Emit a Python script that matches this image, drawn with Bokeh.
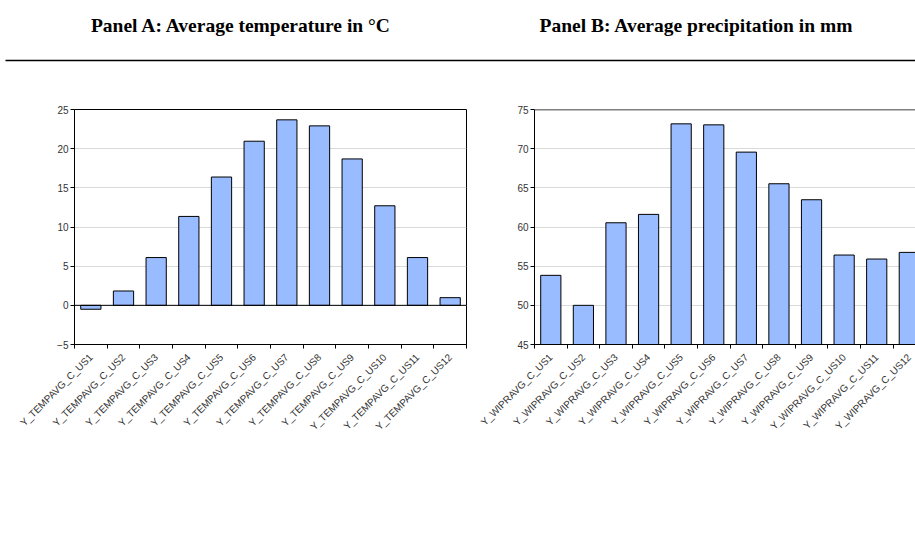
import numpy as np
from bokeh.plotting import figure
from bokeh.layouts import column, row
from bokeh.models import Range1d, FixedTicker, Span, Label
from bokeh.embed import file_html
from bokeh.resources import INLINE

# ---------------- data ----------------
panel_titles = ["Panel A: Average temperature in \u00b0C",
                "Panel B: Average precipitation in mm"]

temp_labels = [f"Y_TEMPAVG_C_US{i}" for i in range(1, 13)]
temp_values = [-0.5, 1.83, 6.1, 11.35, 16.38, 20.95, 23.68, 22.91, 18.69, 12.71, 6.1, 0.98]
temp_ticks = [-5, 0, 5, 10, 15, 20, 25]

precip_labels = [f"Y_WIPRAVG_C_US{i}" for i in range(1, 13)]
precip_values = [53.83, 50.0, 60.54, 61.61, 73.17, 73.04, 69.56, 65.52, 63.48, 56.42, 55.91, 56.76]
precip_ticks = [45, 50, 55, 60, 65, 70, 75]

BAR_FILL = "#99BBFF"
GRID = "#d9d9d9"
TICK_FONT = "Liberation Sans"
TICK_COLOR = "#333333"


def panel(labels, values, ticks, baseline, width, height, bl, br, bt, bb, x_end, full_outline):
    n = len(labels)
    xs = list(range(1, n + 1))
    p = figure(width=width, height=height,
               x_range=Range1d(0.5, x_end),
               y_range=Range1d(ticks[0], ticks[-1]),
               output_backend="svg", toolbar_location=None,
               min_border_left=bl, min_border_right=br,
               min_border_top=bt, min_border_bottom=bb)
    p.vbar(x=xs, top=values, bottom=baseline, width=0.62,
           fill_color=BAR_FILL, line_color="black", line_width=1)

    # x axis: labels at centres, tick marks at category boundaries
    xa = p.xaxis[0]
    xa.ticker = FixedTicker(ticks=xs, minor_ticks=[x - 0.5 for x in xs] + [n + 0.5])
    xa.major_label_overrides = {x: lab for x, lab in zip(xs, labels)}
    xa.major_label_orientation = np.pi / 4
    xa.major_tick_out = 0
    xa.major_tick_in = 0
    xa.minor_tick_out = 4
    xa.minor_tick_in = 0
    xa.minor_tick_line_color = "black"
    xa.axis_line_color = "black"
    xa.major_label_text_font = TICK_FONT
    xa.major_label_text_font_size = "10px"
    xa.major_label_text_color = TICK_COLOR
    xa.major_label_standoff = 7

    ya = p.yaxis[0]
    ya.ticker = FixedTicker(ticks=ticks, minor_ticks=[])
    ya.major_tick_out = 4
    ya.major_tick_in = 0
    ya.major_tick_line_color = "black"
    ya.axis_line_color = "black"
    ya.major_label_text_font = TICK_FONT
    ya.major_label_text_font_size = "10px"
    ya.major_label_text_color = TICK_COLOR
    ya.major_label_standoff = 2

    p.xgrid.grid_line_color = None
    p.ygrid.grid_line_color = GRID
    p.ygrid.grid_line_width = 1

    if full_outline:
        p.outline_line_color = "black"
        p.outline_line_width = 1
    else:
        p.outline_line_color = None
        p.add_layout(Span(location=ticks[-1], dimension="width",
                          line_color="black", line_width=1.3))
    if ticks[0] < 0 < ticks[-1]:
        p.add_layout(Span(location=0, dimension="width",
                          line_color="black", line_width=1))
    p.background_fill_color = "white"
    p.border_fill_color = "white"
    return p


# ---------------- header ----------------
header = figure(width=915, height=70, x_range=Range1d(0, 915), y_range=Range1d(70, 0),
                output_backend="svg", toolbar_location=None,
                min_border=0, min_border_left=0, min_border_right=0,
                min_border_top=0, min_border_bottom=0)
header.axis.visible = False
header.grid.grid_line_color = None
header.outline_line_color = None
for xc, t in zip([241, 696], panel_titles):
    header.add_layout(Label(x=xc, y=25, text=t, text_align="center",
                            text_baseline="middle", text_font="Liberation Serif",
                            text_font_style="bold", text_font_size="19.5px",
                            text_color="black"))
header.line(x=[5, 915], y=[60, 60], line_color="black", line_width=1.3)

pA = panel(temp_labels, temp_values, temp_ticks, 0,
           478, 463, 74, 12, 39, 189, 12.5, True)
pB = panel(precip_labels, precip_values, precip_ticks, precip_ticks[0],
           437, 463, 56, 0, 39, 189, 12.19, False)

layout = column(header, row(pA, pB, spacing=0), spacing=0)

open("out.html", "w").write(file_html(layout, INLINE))
